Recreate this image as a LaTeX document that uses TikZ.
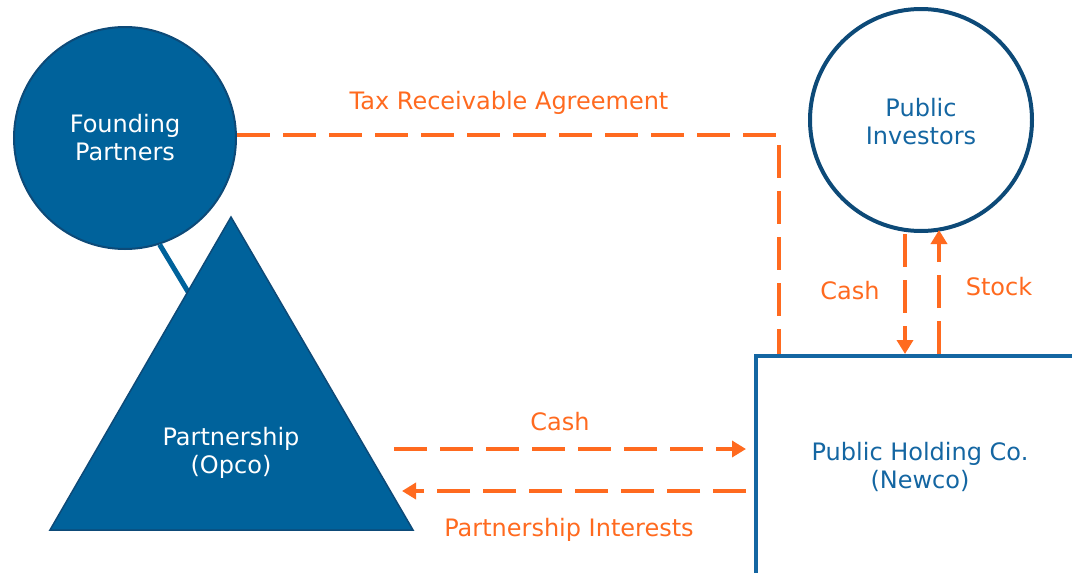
\documentclass[tikz,border=0pt]{standalone}
\usepackage{fontspec}
\setmainfont{DejaVu Sans}
\usetikzlibrary{arrows.meta,calc}
\definecolor{navy}{HTML}{00629B}
\definecolor{navyedge}{HTML}{0D4A78}
\definecolor{boxblue}{HTML}{1466A2}
\definecolor{flow}{HTML}{FF6A1F}
\tikzset{
  lbl/.style={font=\fontsize{24}{28}\selectfont, align=center, inner sep=0pt},
  flowline/.style={draw=flow, line width=4pt, dash pattern=on 33pt off 13pt},
  flowarrow/.style={flowline, -{Triangle[length=14pt,width=16pt]}},
  party/.style={circle, minimum size=222pt, inner sep=0pt, line width=2pt}
}
\begin{document}
\begin{tikzpicture}[x=1pt,y=-1pt]
\useasboundingbox (0,0) rectangle (1072,573);
\begin{scope}
\clip (0,0) rectangle (1072,573);

% holding company box, running past the lower right edge
\node[draw=boxblue, line width=4pt, anchor=north west, minimum width=420pt,
      minimum height=320pt, inner sep=0pt] (B) at (754,354) {};
\node[lbl, text=boxblue] (Btxt) at (920,467) {Public Holding Co.\\(Newco)};

% founding partners and the partnership
\node[party, fill=navy, draw=navyedge] (F) at (125,138) {};
\coordinate (Tin) at (205,320);
\draw[navy, line width=5pt] (F.-72) -- (Tin);
\coordinate (Ta) at (231,217);
\coordinate (Tl) at (50,530);
\coordinate (Tr) at (413,530);
\filldraw[fill=navy, draw=navyedge, line width=1.5pt] (Ta) -- (Tl) -- (Tr) -- cycle;
\node[lbl, text=white] (Ttxt) at (231,453) {Partnership\\(Opco)};
\node[lbl, text=white] (Ftxt) at (F) {Founding\\Partners};

% public investors
\node[party, draw=navyedge, line width=4pt, fill=white] (P) at (921,120) {};
\node[lbl, text=boxblue] (Ptxt) at (921,122) {Public\\Investors};

% tax receivable agreement
\coordinate (traTop) at (779,135);
\draw[flowline] (F.east |- traTop) -- (traTop) -- ($(B.north west)+(25,0)$);
\node[lbl, text=flow] (tra) at (509,103) {Tax Receivable Agreement};

% IPO flows
\coordinate (cashTop) at (905,234);
\coordinate (stockTop) at (939,230);
\draw[flowarrow] (cashTop) -- (cashTop |- B.north);
\draw[flowarrow] (stockTop |- B.north) -- (stockTop);
\node[lbl, text=flow] (cashV) at (850,291) {Cash};
\node[lbl, text=flow] (stock) at (999,287) {Stock};

% partnership exchange
\coordinate (cashL) at (394,449);
\coordinate (cashR) at (746,449);
\coordinate (intR) at (746,491);
\coordinate (intL) at (402,491);
\draw[flowarrow] (cashL) -- (cashR);
\draw[flowarrow] (intR) -- (intL);
\node[lbl, text=flow] (cashH) at (560,422) {Cash};
\node[lbl, text=flow] (pint) at (569,530) {Partnership Interests};
\end{scope}
\end{tikzpicture}
\end{document}
